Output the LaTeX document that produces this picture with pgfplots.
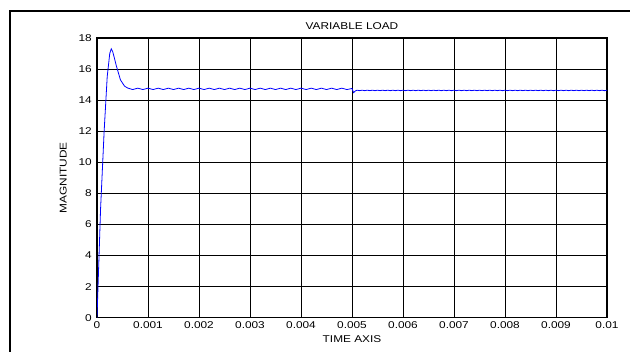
\documentclass[border=0pt]{standalone}
\usepackage{fontspec}
\setmainfont{Liberation Sans}[FakeStretch=1.2]
\usepackage{pgfplots}
\pgfplotsset{compat=1.18}

\begin{document}
\fontsize{7.4pt}{8.8pt}\selectfont
\begin{tikzpicture}
\useasboundingbox (0,0) rectangle (472.5pt,263.25pt);
% outer figure frame (only left and top edges fall inside the page)
\draw[line width=1.5pt] (7.5pt,-10pt) -- (7.5pt,255pt) -- (485pt,255pt);
\begin{axis}[
  at={(72.75pt,24.98pt)}, anchor=south west,
  scale only axis, width=382.5pt, height=209.8pt,
  xmin=0, xmax=0.01, ymin=0, ymax=18,
  xtick={0,0.001,0.002,0.003,0.004,0.005,0.006,0.007,0.008,0.009,0.01},
  xticklabels={0,0.001,0.002,0.003,0.004,0.005,0.006,0.007,0.008,0.009,0.01},
  ytick={0,2,4,6,8,10,12,14,16,18},
  scaled x ticks=false,
  /pgf/number format/assume math mode=true,
  tick label style={font=\fontsize{7.4pt}{8.8pt}\selectfont},
  xticklabel style={anchor=base, yshift=-8.1pt},
  yticklabel style={anchor=east, inner sep=0pt, xshift=-3.75pt},
  tick align=inside, major tick length=3pt,
  tick style={black, line width=0.5pt},
  grid=major, grid style={black, line width=0.5pt},
  axis line style={black, line width=0.9pt},
  title={VARIABLE LOAD},
  title style={at={(axis description cs:0.5,1.032)}, anchor=base, yshift=-6pt, inner sep=0pt},
  xlabel={TIME AXIS},
  xlabel style={at={(axis description cs:0.5,-0.09)}, anchor=base, inner sep=0pt},
  ylabel={MAGNITUDE},
  ylabel style={at={(axis description cs:-0.0594,0.5)}, anchor=base, inner sep=0pt},
]
\addplot[blue, line width=0.6pt] coordinates {
  (0,0) (0.00003,3.0) (0.00007,7.0) (0.00014,12.0) (0.0002,15.5)
  (0.00025,17.0) (0.00028,17.3) (0.00031,17.1) (0.00038,16.2)
  (0.00046,15.3) (0.00054,14.9) (0.0006,14.78)
  (0.0007,14.68) (0.0008,14.77) (0.0009,14.68) (0.0010,14.77)
  (0.0011,14.68) (0.0012,14.77) (0.0013,14.68) (0.0014,14.77)
  (0.0015,14.68) (0.0016,14.77) (0.0017,14.68) (0.0018,14.77)
  (0.0019,14.68) (0.0020,14.77) (0.0021,14.68) (0.0022,14.77)
  (0.0023,14.68) (0.0024,14.77) (0.0025,14.68) (0.0026,14.77)
  (0.0027,14.68) (0.0028,14.77) (0.0029,14.68) (0.0030,14.77)
  (0.0031,14.68) (0.0032,14.77) (0.0033,14.68) (0.0034,14.77)
  (0.0035,14.68) (0.0036,14.77) (0.0037,14.68) (0.0038,14.77)
  (0.0039,14.68) (0.0040,14.77) (0.0041,14.68) (0.0042,14.77)
  (0.0043,14.68) (0.0044,14.77) (0.0045,14.68) (0.0046,14.77)
  (0.0047,14.68) (0.0048,14.77) (0.0049,14.68) (0.0050,14.75)
  (0.00503,14.48) (0.00507,14.60) (0.0051,14.64)
  (0.00515,14.61) (0.0052,14.64) (0.00525,14.61) (0.0053,14.64)
  (0.00535,14.61) (0.0054,14.64) (0.00545,14.61) (0.0055,14.64)
  (0.00555,14.61) (0.0056,14.64) (0.00565,14.61) (0.0057,14.64)
  (0.00575,14.61) (0.0058,14.64) (0.00585,14.61) (0.0059,14.64)
  (0.00595,14.61) (0.0060,14.64) (0.00605,14.61) (0.0061,14.64)
  (0.00615,14.61) (0.0062,14.64) (0.00625,14.61) (0.0063,14.64)
  (0.00635,14.61) (0.0064,14.64) (0.00645,14.61) (0.0065,14.64)
  (0.00655,14.61) (0.0066,14.64) (0.00665,14.61) (0.0067,14.64)
  (0.00675,14.61) (0.0068,14.64) (0.00685,14.61) (0.0069,14.64)
  (0.00695,14.61) (0.0070,14.64) (0.00705,14.61) (0.0071,14.64)
  (0.00715,14.61) (0.0072,14.64) (0.00725,14.61) (0.0073,14.64)
  (0.00735,14.61) (0.0074,14.64) (0.00745,14.61) (0.0075,14.64)
  (0.00755,14.61) (0.0076,14.64) (0.00765,14.61) (0.0077,14.64)
  (0.00775,14.61) (0.0078,14.64) (0.00785,14.61) (0.0079,14.64)
  (0.00795,14.61) (0.0080,14.64) (0.00805,14.61) (0.0081,14.64)
  (0.00815,14.61) (0.0082,14.64) (0.00825,14.61) (0.0083,14.64)
  (0.00835,14.61) (0.0084,14.64) (0.00845,14.61) (0.0085,14.64)
  (0.00855,14.61) (0.0086,14.64) (0.00865,14.61) (0.0087,14.64)
  (0.00875,14.61) (0.0088,14.64) (0.00885,14.61) (0.0089,14.64)
  (0.00895,14.61) (0.0090,14.64) (0.00905,14.61) (0.0091,14.64)
  (0.00915,14.61) (0.0092,14.64) (0.00925,14.61) (0.0093,14.64)
  (0.00935,14.61) (0.0094,14.64) (0.00945,14.61) (0.0095,14.64)
  (0.00955,14.61) (0.0096,14.64) (0.00965,14.61) (0.0097,14.64)
  (0.00975,14.61) (0.0098,14.64) (0.00985,14.61) (0.0099,14.64)
  (0.00995,14.61) (0.0100,14.64)
};
\end{axis}
\end{tikzpicture}
\end{document}
